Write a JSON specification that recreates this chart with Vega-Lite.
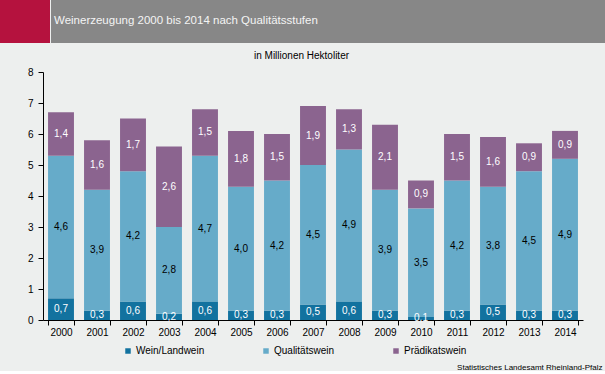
{
  "$schema": "https://vega.github.io/schema/vega-lite/v6.json",
  "background": "#EDEFEE",
  "padding": 0,
  "spacing": 8,
  "config": {
    "view": {"stroke": null},
    "font": "Liberation Sans",
    "locale": {"number": {"decimal": ",", "thousands": ".", "grouping": [3], "currency": ["", " €"]}}
  },
  "vconcat": [
    {
      "spacing": 1,
      "hconcat": [
        {
          "width": 50, "height": 43,
          "data": {"values": [{"part": "logo"}]},
          "mark": {"type": "rect", "color": "#B5123E"},
          "encoding": {}
        },
        {
          "width": 554, "height": 43,
          "data": {"values": [{"part": "band", "text": "Weinerzeugung 2000 bis 2014 nach Qualitätsstufen"}]},
          "layer": [
            {"mark": {"type": "rect", "color": "#878787"}, "encoding": {}},
            {"mark": {"type": "text", "align": "left", "baseline": "middle", "fontSize": 11.5, "color": "#F4F4F4", "x": 3, "y": 21},
             "encoding": {"text": {"field": "text"}}}
          ]
        }
      ]
    },
    {
      "width": 583,
      "height": 248,
      "title": {"text": "in Millionen Hektoliter", "fontSize": 10, "fontWeight": "normal", "color": "#000000", "anchor": "middle", "dx": 10, "offset": 6},
      "data": {"values": [
        {"Jahr": "2000", "Stufe": "Wein/Landwein", "k": 1, "Wert": 0.7},
        {"Jahr": "2000", "Stufe": "Qualitätswein", "k": 2, "Wert": 4.6},
        {"Jahr": "2000", "Stufe": "Prädikatswein", "k": 3, "Wert": 1.4},
        {"Jahr": "2001", "Stufe": "Wein/Landwein", "k": 1, "Wert": 0.3},
        {"Jahr": "2001", "Stufe": "Qualitätswein", "k": 2, "Wert": 3.9},
        {"Jahr": "2001", "Stufe": "Prädikatswein", "k": 3, "Wert": 1.6},
        {"Jahr": "2002", "Stufe": "Wein/Landwein", "k": 1, "Wert": 0.6},
        {"Jahr": "2002", "Stufe": "Qualitätswein", "k": 2, "Wert": 4.2},
        {"Jahr": "2002", "Stufe": "Prädikatswein", "k": 3, "Wert": 1.7},
        {"Jahr": "2003", "Stufe": "Wein/Landwein", "k": 1, "Wert": 0.2},
        {"Jahr": "2003", "Stufe": "Qualitätswein", "k": 2, "Wert": 2.8},
        {"Jahr": "2003", "Stufe": "Prädikatswein", "k": 3, "Wert": 2.6},
        {"Jahr": "2004", "Stufe": "Wein/Landwein", "k": 1, "Wert": 0.6},
        {"Jahr": "2004", "Stufe": "Qualitätswein", "k": 2, "Wert": 4.7},
        {"Jahr": "2004", "Stufe": "Prädikatswein", "k": 3, "Wert": 1.5},
        {"Jahr": "2005", "Stufe": "Wein/Landwein", "k": 1, "Wert": 0.3},
        {"Jahr": "2005", "Stufe": "Qualitätswein", "k": 2, "Wert": 4.0},
        {"Jahr": "2005", "Stufe": "Prädikatswein", "k": 3, "Wert": 1.8},
        {"Jahr": "2006", "Stufe": "Wein/Landwein", "k": 1, "Wert": 0.3},
        {"Jahr": "2006", "Stufe": "Qualitätswein", "k": 2, "Wert": 4.2},
        {"Jahr": "2006", "Stufe": "Prädikatswein", "k": 3, "Wert": 1.5},
        {"Jahr": "2007", "Stufe": "Wein/Landwein", "k": 1, "Wert": 0.5},
        {"Jahr": "2007", "Stufe": "Qualitätswein", "k": 2, "Wert": 4.5},
        {"Jahr": "2007", "Stufe": "Prädikatswein", "k": 3, "Wert": 1.9},
        {"Jahr": "2008", "Stufe": "Wein/Landwein", "k": 1, "Wert": 0.6},
        {"Jahr": "2008", "Stufe": "Qualitätswein", "k": 2, "Wert": 4.9},
        {"Jahr": "2008", "Stufe": "Prädikatswein", "k": 3, "Wert": 1.3},
        {"Jahr": "2009", "Stufe": "Wein/Landwein", "k": 1, "Wert": 0.3},
        {"Jahr": "2009", "Stufe": "Qualitätswein", "k": 2, "Wert": 3.9},
        {"Jahr": "2009", "Stufe": "Prädikatswein", "k": 3, "Wert": 2.1},
        {"Jahr": "2010", "Stufe": "Wein/Landwein", "k": 1, "Wert": 0.1},
        {"Jahr": "2010", "Stufe": "Qualitätswein", "k": 2, "Wert": 3.5},
        {"Jahr": "2010", "Stufe": "Prädikatswein", "k": 3, "Wert": 0.9},
        {"Jahr": "2011", "Stufe": "Wein/Landwein", "k": 1, "Wert": 0.3},
        {"Jahr": "2011", "Stufe": "Qualitätswein", "k": 2, "Wert": 4.2},
        {"Jahr": "2011", "Stufe": "Prädikatswein", "k": 3, "Wert": 1.5},
        {"Jahr": "2012", "Stufe": "Wein/Landwein", "k": 1, "Wert": 0.5},
        {"Jahr": "2012", "Stufe": "Qualitätswein", "k": 2, "Wert": 3.8},
        {"Jahr": "2012", "Stufe": "Prädikatswein", "k": 3, "Wert": 1.6},
        {"Jahr": "2013", "Stufe": "Wein/Landwein", "k": 1, "Wert": 0.3},
        {"Jahr": "2013", "Stufe": "Qualitätswein", "k": 2, "Wert": 4.5},
        {"Jahr": "2013", "Stufe": "Prädikatswein", "k": 3, "Wert": 0.9},
        {"Jahr": "2014", "Stufe": "Wein/Landwein", "k": 1, "Wert": 0.3},
        {"Jahr": "2014", "Stufe": "Qualitätswein", "k": 2, "Wert": 4.9},
        {"Jahr": "2014", "Stufe": "Prädikatswein", "k": 3, "Wert": 0.9}
      ]},
      "encoding": {
        "x": {
          "field": "Jahr", "type": "ordinal",
          "scale": {"paddingInner": 0.28, "paddingOuter": 0.14, "range": [43, 583]},
          "axis": {
            "title": "Statistisches Landesamt Rheinland-Pfalz",
            "titleFontSize": 8, "titleFontWeight": "normal", "titleColor": "#000000",
            "titleAlign": "right", "titleBaseline": "middle", "titleX": 602, "titleY": 47,
            "labelAngle": 0, "labelFontSize": 10, "labelColor": "#000000", "labelPadding": 2,
            "tickBand": "extent", "tickSize": 5, "tickColor": "#000000", "domainColor": "#000000"
          }
        },
        "y": {
          "field": "Wert", "type": "quantitative", "stack": "zero",
          "scale": {"domain": [0, 8], "nice": false},
          "axis": {
            "title": null, "grid": false, "values": [0, 1, 2, 3, 4, 5, 6, 7, 8], "format": "d",
            "labelFontSize": 10, "labelColor": "#000000", "labelPadding": 5, "offset": -43,
            "tickSize": 5, "tickColor": "#000000", "domainColor": "#000000"
          }
        },
        "order": {"field": "k", "type": "quantitative"}
      },
      "layer": [
        {
          "mark": {"type": "bar"},
          "encoding": {
            "color": {
              "field": "Stufe", "type": "nominal",
              "scale": {"domain": ["Wein/Landwein", "Qualitätswein", "Prädikatswein"], "range": ["#12729F", "#66ABC9", "#8B648F"]},
              "legend": {
                "title": null, "orient": "none", "direction": "horizontal", "legendX": 123, "legendY": 346,
                "symbolType": "square", "symbolSize": 30, "labelFontSize": 10, "labelColor": "#000000",
                "columnPadding": 56, "labelOffset": 3
              }
            }
          }
        },
        {
          "mark": {"type": "text", "fontSize": 10, "baseline": "middle"},
          "encoding": {
            "y": {"field": "Wert", "type": "quantitative", "stack": "zero", "bandPosition": 0.5},
            "text": {"field": "Wert", "type": "quantitative", "format": ".1f"},
            "color": {"condition": {"test": "datum.Stufe === 'Qualitätswein'", "value": "#000000"}, "value": "#FFFFFF"}
          }
        }
      ]
    }
  ]
}
